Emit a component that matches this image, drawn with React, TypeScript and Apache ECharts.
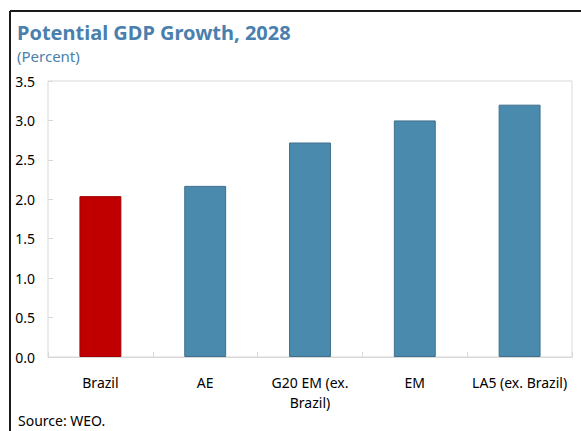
import React, { useEffect, useRef } from "react";
import * as echarts from "echarts";

const categories = ["Brazil", "AE", "G20 EM (ex.\nBrazil)", "EM", "LA5 (ex. Brazil)"];
const values = [2.04, 2.17, 2.72, 3.0, 3.2];
const barColors = ["#c00000", "#4a8aad", "#4a8aad", "#4a8aad", "#4a8aad"];
const barBorders = ["#a00000", "#3f6f8c", "#3f6f8c", "#3f6f8c", "#3f6f8c"];

const FONT = "'Noto Sans', 'Open Sans', sans-serif";

export default function App() {
  const ref = useRef<HTMLDivElement>(null);
  useEffect(() => {
    document.body.style.margin = "0";
    const chart = echarts.init(ref.current!, null, { renderer: "svg" });
    chart.setOption({
      animation: false,
      backgroundColor: "#ffffff",
      textStyle: { fontFamily: FONT },
      title: [
        {
          text: "Potential GDP Growth, 2028",
          left: 17,
          top: 22,
          padding: 0,
          textStyle: { fontFamily: FONT, fontSize: 20, fontWeight: "bold", color: "#4a7fae" },
        },
        {
          text: "(Percent)",
          left: 17,
          top: 48,
          padding: 0,
          textStyle: { fontFamily: FONT, fontSize: 15, fontWeight: "normal", color: "#4a7fae" },
        },
        {
          text: "Source: WEO.",
          left: 18,
          top: 413,
          padding: 0,
          textStyle: { fontFamily: FONT, fontSize: 14, fontWeight: "normal", color: "#000" },
        },
      ],
      graphic: [
        { type: "line", shape: { x1: 10, y1: 11, x2: 581, y2: 11 }, style: { stroke: "#1a1a1a", lineWidth: 2 } },
        { type: "line", shape: { x1: 10, y1: 11, x2: 10, y2: 431 }, style: { stroke: "#1a1a1a", lineWidth: 2 } },
      ],
      grid: {
        left: 48,
        right: 9,
        top: 81,
        bottom: 74,
        show: true,
        borderColor: "#d9d9d9",
        borderWidth: 1,
      },
      xAxis: {
        type: "category",
        data: categories,
        axisLine: { show: true, lineStyle: { color: "#d9d9d9" } },
        axisTick: { show: true, inside: true, length: 5, lineStyle: { color: "#d9d9d9" } },
        axisLabel: { color: "#000", fontSize: 14, margin: 15, lineHeight: 20, fontFamily: FONT, interval: 0 },
      },
      yAxis: {
        type: "value",
        min: 0,
        max: 3.5,
        interval: 0.5,
        splitLine: { show: false },
        axisLine: { show: false },
        axisTick: { show: true, inside: true, length: 5, lineStyle: { color: "#d9d9d9" } },
        axisLabel: {
          color: "#000",
          fontSize: 14,
          margin: 13,
          fontFamily: FONT,
          formatter: (v: number) => v.toFixed(1),
        },
      },
      series: [
        {
          type: "bar",
          barWidth: "40%",
          data: values.map((v, i) => ({
            value: v,
            itemStyle: { color: barColors[i], borderColor: barBorders[i], borderWidth: 1 },
          })),
        },
      ],
    });
    return () => chart.dispose();
  }, []);
  return <div ref={ref} style={{ position: "fixed", left: 0, top: 0, width: 581, height: 431 }} />;
}
